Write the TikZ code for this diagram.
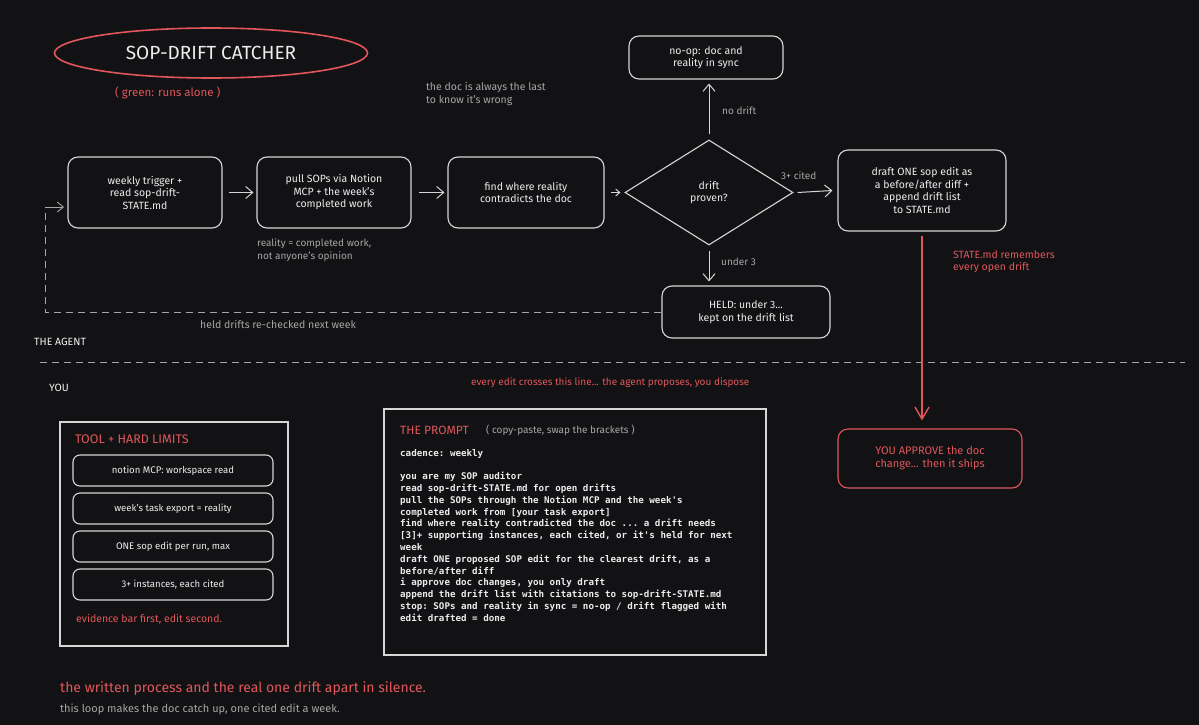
\documentclass[tikz,border=0pt]{standalone}
\usepackage{fontspec}
\setmainfont{Fira Sans}
\setmonofont{DejaVu Sans Mono}
\usetikzlibrary{shapes.geometric,arrows.meta}
\definecolor{bgc}{HTML}{121214}
\definecolor{fg}{HTML}{EDEDED}
\definecolor{boxc}{HTML}{D6D6D6}
\definecolor{grayc}{HTML}{A6A6A6}
\definecolor{redc}{HTML}{E0565B}
\tikzset{
  box/.style={draw=boxc, line width=1.1pt, rounded corners=10pt, fill=bgc, text=fg,
    font=\fontsize{10.5}{12.5}\selectfont, align=center, inner sep=2pt},
  limbox/.style={box, rounded corners=7pt, minimum width=200pt, minimum height=31pt, font=\fontsize{9.6}{11}\selectfont},
  note/.style={text=grayc, font=\fontsize{10}{13}\selectfont, align=left, inner sep=0pt},
  rnote/.style={note, text=redc, font=\fontsize{10.5}{12.5}\selectfont},
  arr/.style={draw=boxc, line width=1pt, -{Straight Barb[length=7pt,width=12pt]}},
  rarr/.style={draw=redc, line width=1.4pt, -{Straight Barb[length=12pt,width=14pt]}},
  dashln/.style={draw=grayc, line width=0.9pt, dash pattern=on 7pt off 5pt},
}
\begin{document}
\begin{tikzpicture}[x=1pt,y=-1pt]
\useasboundingbox[fill=bgc] (0,0) rectangle (1199,725);

% title
\node[ellipse, draw=redc, line width=1.6pt, minimum width=313pt, minimum height=50pt, text=fg,
  font=\fontsize{19}{21}\selectfont] (title) at (211,53) {SOP-DRIFT CATCHER};
\node[rnote, font=\fontsize{11.5}{13}\selectfont, anchor=base west] (green) at (115,96) {( green: runs alone )};
\node[note, font=\fontsize{10.5}{13}\selectfont, anchor=north west] (lastnote) at (426,82) {the doc is always the last\\to know it's wrong};

% flow
\node[box, minimum width=154pt, minimum height=71pt] (b1) at (145,192.5) {weekly trigger +\\read sop-drift-\\STATE.md};
\node[box, minimum width=154pt, minimum height=71pt] (b2) at (334,192.5) {pull SOPs via Notion\\MCP + the week's\\completed work};
\node[box, minimum width=156pt, minimum height=71pt] (b3) at (526,192.5) {find where reality\\contradicts the doc};
\node[diamond, draw=boxc, line width=1.1pt, fill=bgc, text=fg, minimum width=168pt, minimum height=105pt,
  inner sep=0pt, align=center, font=\fontsize{10.5}{12.5}\selectfont] (dia) at (709,192.5) {drift\\proven?};
\node[box, minimum width=154pt, minimum height=43pt] (noop) at (706,57.5) {no-op: doc and\\reality in sync};
\node[box, minimum width=168pt, minimum height=81pt] (draft) at (922,190.5) {draft ONE sop edit as\\a before/after diff +\\append drift list\\to STATE.md};
\node[box, minimum width=168pt, minimum height=52pt] (held) at (746,312) {HELD: under 3...\\kept on the drift list};

\draw[arr] ([xshift=6pt]b1.east) -- ([xshift=-3pt]b2.west);
\draw[arr] ([xshift=7pt]b2.east) -- ([xshift=-3pt]b3.west);
\draw[arr, -{Straight Barb[length=4pt,width=7pt]}] ([xshift=6pt]b3.east) -- ([xshift=-4pt]dia.west);
\draw[arr] ([yshift=5pt]dia.north) -- ([yshift=-4pt]noop.south -| dia.north);
\draw[arr] ([xshift=4pt]dia.east) -- ([xshift=-5pt]draft.west);
\draw[arr] ([yshift=-5pt]dia.south) -- ([yshift=4pt]held.north -| dia.south);

\node[note, anchor=base west] (nodrift) at (722,114) {no drift};
\node[note, anchor=base west] (cited) at (781,179) {3+ cited};
\node[note, anchor=base west] (under) at (721,265) {under 3};
\node[note, anchor=north west] (realnote) at (257,238) {reality = completed work,\\not anyone's opinion};

% loop back
\coordinate (loopc) at (45,312);
\draw[dashln] (held.west) -- (loopc) -- (45,207);
\draw[dashln, -{Straight Barb[length=6pt,width=10pt]}, solid] (45,207) -- (64,207);
\node[note, font=\fontsize{10.5}{13}\selectfont, anchor=base west] (heldnote) at (200,328) {held drifts re-checked next week};

% lanes
\node[text=fg!85, font=\fontsize{10.5}{12}\selectfont, anchor=base west, inner sep=0pt] (agent) at (34,345) {THE AGENT};
\draw[dashln] (40,362) -- (1185,362);
\node[text=fg!85, font=\fontsize{10.5}{12}\selectfont, anchor=base west, inner sep=0pt] (you) at (49,391) {YOU};
\node[rnote, font=\fontsize{10}{12}\selectfont, anchor=base west] (cross) at (471,385) {every edit crosses this line... the agent proposes, you dispose};

% approve
\node[box, draw=redc, text=redc, minimum width=184pt, minimum height=59pt, font=\fontsize{11}{13}\selectfont] (approve) at (930,458.5) {YOU APPROVE the doc\\change... then it ships};
\draw[rarr] ([yshift=-4pt]draft.south) -- ([yshift=8pt]approve.north -| draft.south);
\node[rnote, anchor=north west] (statenote) at (953,250) {STATE.md remembers\\every open drift};

% limits
\node[draw=boxc, line width=1.1pt, minimum width=228pt, minimum height=224pt, inner sep=0pt] (limits) at (174,534) {};
\node[text=redc, font=\fontsize{12.5}{14}\selectfont, anchor=base west, inner sep=0pt] (limtitle) at (75,443) {TOOL + HARD LIMITS};
\node[limbox] (l1) at (173,470.5) {notion MCP: workspace read};
\node[limbox] (l2) at (173,508.5) {week's task export = reality};
\node[limbox] (l3) at (173,546.5) {ONE sop edit per run, max};
\node[limbox] (l4) at (173,584.5) {3+ instances, each cited};
\node[rnote, anchor=base west] (evid) at (76,622) {evidence bar first, edit second.};

% prompt
\node[draw=boxc, line width=1.1pt, minimum width=382pt, minimum height=246pt, inner sep=0pt] (prompt) at (575,532) {};
\node[text=redc, font=\fontsize{12}{14}\selectfont, anchor=base west, inner sep=0pt] (ptitle) at (400,434) {THE PROMPT};
\node[note, font=\fontsize{10}{12}\selectfont, anchor=base west] (psub) at (486,433) {( copy-paste, swap the brackets )};
\node[text=fg, font=\ttfamily\bfseries\fontsize{9.2}{11.8}\selectfont, anchor=north west, align=left, inner sep=0pt] (ptext) at (400,449)
{cadence: weekly\\[11.8pt]
you are my SOP auditor\\
read sop-drift-STATE.md for open drifts\\
pull the SOPs through the Notion MCP and the week's\\
completed work from [your task export]\\
find where reality contradicted the doc ... a drift needs\\\relax
[3]+ supporting instances, each cited, or it's held for next\\
week\\
draft ONE proposed SOP edit for the clearest drift, as a\\
before/after diff\\
i approve doc changes, you only draft\\
append the drift list with citations to sop-drift-STATE.md\\
stop: SOPs and reality in sync = no-op / drift flagged with\\
edit drafted = done};

% bottom
\node[text=redc, font=\fontsize{14}{16}\selectfont, anchor=base west, inner sep=0pt] (tag1) at (60,692) {the written process and the real one drift apart in silence.};
\node[note, font=\fontsize{11}{13}\selectfont, anchor=base west] (tag2) at (60,712) {this loop makes the doc catch up, one cited edit a week.};
\end{tikzpicture}
\end{document}
